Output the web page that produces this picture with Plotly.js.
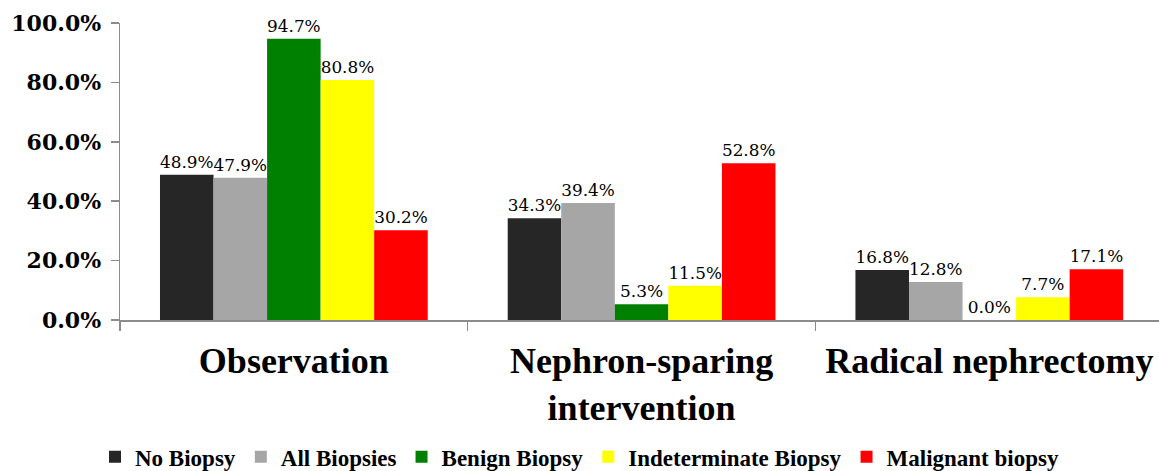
<!DOCTYPE html>
<html>
<head>
<meta charset="utf-8">
<script src="https://cdn.plot.ly/plotly-3.0.1.min.js"></script>
<style>html,body{margin:0;padding:0;background:#fff;}#chart{width:1159px;height:471px;}</style>
</head>
<body>
<div id="chart"></div>
<script>
const categories = ["Observation", "Nephron-sparing<br>intervention", "Radical nephrectomy"];
const seriesNames = ["No Biopsy", "All Biopsies", "Benign Biopsy", "Indeterminate Biopsy", "Malignant biopsy"];
const noBiopsy = [48.9, 34.3, 16.8];
const allBiopsies = [47.9, 39.4, 12.8];
const benignBiopsy = [94.7, 5.3, 0.0];
const indeterminateBiopsy = [80.8, 11.5, 7.7];
const malignantBiopsy = [30.2, 52.8, 17.1];
const yTickVals = [0, 20, 40, 60, 80, 100];
const yTickText = ["0.0%", "20.0%", "40.0%", "60.0%", "80.0%", "100.0%"];

const seriesValues = [noBiopsy, allBiopsies, benignBiopsy, indeterminateBiopsy, malignantBiopsy];
const colors = ["#262626", "#a6a6a6", "#008000", "#ffff00", "#ff0000"];

const traces = seriesValues.map((vals, i) => ({
  type: "bar",
  name: seriesNames[i],
  x: categories,
  y: vals,
  marker: {color: colors[i], line: {width: 0}},
  texttemplate: "%{y:.1f}%",
  textposition: "outside",
  textfont: {family: "DejaVu Serif, serif", size: 17, color: "#000"},
  cliponaxis: false,
  hoverinfo: "none"
}));

const layout = {
  width: 1159, height: 471,
  margin: {l: 120, r: 0, t: 23, b: 151, autoexpand: false},
  paper_bgcolor: "#fff", plot_bgcolor: "#fff",
  barmode: "group",
  bargap: 0.23,
  bargroupgap: 0,
  showlegend: true,
  legend: {
    orientation: "h", x: 0.5, xanchor: "center", xref: "container",
    y: 0.03, yanchor: "middle", yref: "container",
    font: {family: "Liberation Serif, serif", size: 23, color: "#000", weight: "bold"},
    tracegroupgap: 0
  },
  xaxis: {
    type: "category",
    range: [-0.5, 2.488],
    showline: true, linecolor: "#8c8c8c", linewidth: 1.5,
    ticks: "outside", tickson: "boundaries", ticklen: 9, tickcolor: "#8c8c8c", tickwidth: 1.5,
    tickfont: {family: "Liberation Serif, serif", size: 36, color: "#000", weight: "bold"},
    ticklabelstandoff: 8,
    showgrid: false, zeroline: false, fixedrange: true
  },
  yaxis: {
    range: [0, 100],
    tickvals: yTickVals, ticktext: yTickText,
    showline: true, linecolor: "#8c8c8c", linewidth: 1.5,
    ticks: "outside", ticklen: 8, tickcolor: "#8c8c8c", tickwidth: 1.5,
    tickfont: {family: "DejaVu Serif, serif", size: 22, color: "#000", weight: "bold"},
    ticklabelstandoff: 5,
    showgrid: false, zeroline: false, fixedrange: true
  }
};

Plotly.newPlot("chart", traces, layout, {displayModeBar: false, staticPlot: true});
</script>
</body>
</html>
